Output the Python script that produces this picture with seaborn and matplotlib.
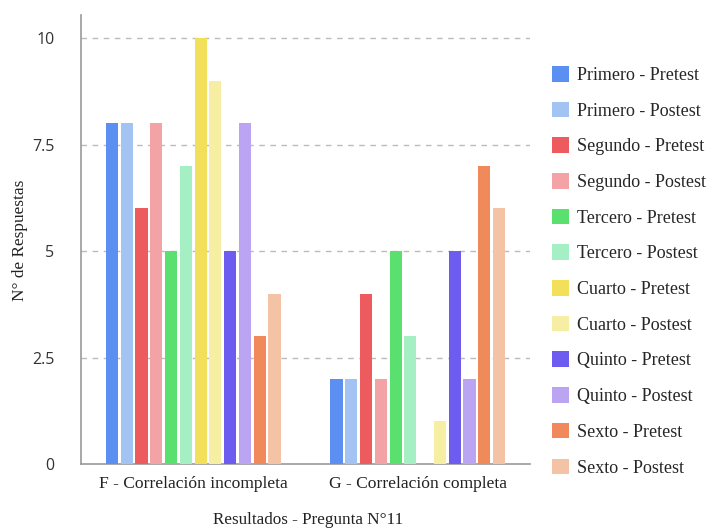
import matplotlib
matplotlib.use("Agg")
import matplotlib.pyplot as plt
import seaborn as sns
import pandas as pd
from matplotlib.patches import Patch

categories = ["F - Correlación incompleta", "G - Correlación completa"]
series = ["Primero - Pretest", "Primero - Postest", "Segundo - Pretest", "Segundo - Postest",
          "Tercero - Pretest", "Tercero - Postest", "Cuarto - Pretest", "Cuarto - Postest",
          "Quinto - Pretest", "Quinto - Postest", "Sexto - Pretest", "Sexto - Postest"]
values_F = [8, 8, 6, 8, 5, 7, 10, 9, 5, 8, 3, 4]
values_G = [2, 2, 4, 2, 5, 3, 0, 1, 5, 2, 7, 6]
colors = ["#5b8ff2", "#a3c3f3", "#ee5b5e", "#f3a3a5", "#5ae06e", "#a4efc3",
          "#f2df5a", "#f5eea3", "#6e5cf0", "#bba4f1", "#f08a5a", "#f4c2a4"]
yticks = [0, 2.5, 5, 7.5, 10]
ytick_labels = ["0", "2.5", "5", "7.5", "10"]

rows = []
for cat, vals in zip(categories, [values_F, values_G]):
    for s, v in zip(series, vals):
        rows.append({"cat": cat, "serie": s, "val": v})
df = pd.DataFrame(rows)

sns.set_theme(style="white")
plt.rcParams['font.family'] = ['Liberation Serif', 'DejaVu Serif']

fig = plt.figure(figsize=(7.09, 5.31), dpi=100)
ax = fig.add_axes([81/709, 1-464/531, 449/709, 449/531])

sns.barplot(data=df, x="cat", y="val", hue="serie", hue_order=series, order=categories,
            palette=colors, width=0.79, gap=0.18, saturation=1, ax=ax, legend=False,
            zorder=3, linewidth=0, errorbar=None)

ax.set_ylim(0, 10.54)
ax.set_xlim(-0.5, 1.5)
ax.set_yticks(yticks)
ax.set_yticklabels(ytick_labels, family=['Open Sans', 'DejaVu Sans'], fontsize=11.5, color="#333333")
ax.tick_params(axis='y', length=0, pad=19)
ax.tick_params(axis='x', length=0, pad=9, labelsize=12.6, colors="#222222")
for y in yticks[1:]:
    ax.axhline(y, color="#bbbbbb", lw=1, ls=(0, (4, 4)), zorder=1)
for side in ["top", "right"]:
    ax.spines[side].set_visible(False)
for side in ["left", "bottom"]:
    ax.spines[side].set_color("#999999")
    ax.spines[side].set_linewidth(1.2)

ax.set_xlabel("Resultados - Pregunta N°11", fontsize=12.3, color="#222222")
ax.xaxis.set_label_coords((308-81)/449, -(520-464)/449)
ax.xaxis.label.set_va("center")
ax.set_ylabel("N° de Respuestas", fontsize=12.4, color="#222222")
ax.yaxis.set_label_coords((20-81)/449, (464-240)/449)
ax.yaxis.label.set_va("center")

handles = [Patch(facecolor=c, edgecolor='none') for c in colors]
leg = fig.legend(handles, series, loc="upper left", bbox_to_anchor=(552/709, 1-66/531),
                 frameon=False, fontsize=13, handlelength=0.95, handleheight=0.95,
                 labelspacing=0.98, handletextpad=0.45, borderaxespad=0, borderpad=0)

fig.savefig("out.png", dpi=100)
